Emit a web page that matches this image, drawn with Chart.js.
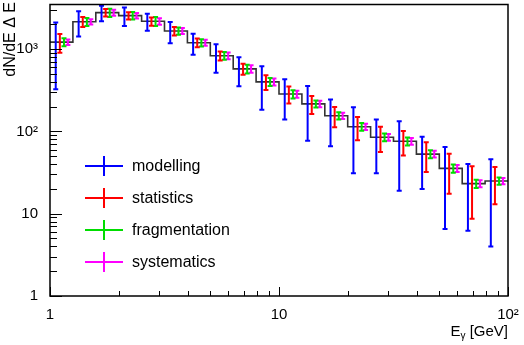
<!DOCTYPE html>
<html><head><meta charset="utf-8">
<script src="https://cdn.jsdelivr.net/npm/chart.js@4/dist/chart.umd.min.js"></script>
<style>html,body{margin:0;padding:0;background:#fff;}#wrap{width:524px;height:345px;position:relative;}</style>
</head><body><div id="wrap"><canvas id="c" width="524" height="345"></canvas></div>
<script>
// ---- data ----
const binEdges = [1, 1.259, 1.585, 1.995, 2.512, 3.162, 3.981, 5.012, 6.310, 7.943, 10,
                  12.59, 15.85, 19.95, 25.12, 31.62, 39.81, 50.12, 63.10, 79.43, 100];
const binContents = [1215, 2150, 2770, 2550, 2175, 1660, 1195, 830, 575, 400,
                     284, 216, 155, 114, 85, 76, 53, 35.5, 23.2, 25];
const errModelling = [890, 730, 590, 640, 505, 480, 340, 315, 222, 217,
                      145, 139, 89, 83, 54, 57, 33, 29, 17, 21];
const errStatistics = [313, 300, 290, 255, 250, 195, 146, 105, 88, 82,
                       66, 53, 43, 36, 29, 25, 21, 18, 14.5, 12];
const errFragmentation = [135, 237, 320, 270, 270, 170, 123, 90, 70, 45,
                          33, 21, 16, 12, 9, 8.5, 6, 4, 2.7, 2.6];
const errSystematics = [95, 156, 230, 195, 200, 140, 100, 76, 60, 38,
                        28, 19, 14, 10, 8, 7, 5, 3.5, 2.3, 2.2];
const seriesNames = ['modelling', 'statistics', 'fragmentation', 'systematics'];
const xTickLabels = {1: '1', 10: '10', 100: '10\u00b2'};
const yTickLabels = {1: '1', 10: '10', 100: '10\u00b2', 1000: '10\u00b3'};
const yMax = 3480;

// ---- styling / layout ----
const seriesErrors = [errModelling, errStatistics, errFragmentation, errSystematics];
const seriesColors = ['#0000ff', '#ff0000', '#00dd00', '#ff00ff'];
const OFFSETS = [0.25, 0.43, 0.61, 0.78];
const FONT = '"Liberation Sans", Arial, Helvetica, sans-serif';

function barX(k, s) {
  const lo = Math.log10(binEdges[k]), hi = Math.log10(binEdges[k + 1]);
  return Math.pow(10, lo + (hi - lo) * OFFSETS[s]);
}

const histData = binEdges.map((e, k) => ({x: e, y: binContents[Math.min(k, binContents.length - 1)]}));

const errDatasets = seriesErrors.map((errs, s) => {
  const pts = [];
  errs.forEach((e, k) => {
    const bx = barX(k, s);
    pts.push({x: bx, y: binContents[k] - e});
    pts.push({x: bx, y: binContents[k] + e});
    pts.push({x: bx, y: null});
  });
  return {
    label: seriesNames[s], data: pts, borderColor: seriesColors[s], backgroundColor: seriesColors[s],
    borderWidth: 2, pointStyle: 'line', pointRadius: 2.5, pointBorderWidth: 2,
    pointBorderColor: seriesColors[s], pointHoverRadius: 2.5, spanGaps: false, showLine: true,
    order: 1
  };
});

const framePlugin = {
  id: 'frame',
  afterDraw(chart) {
    const ctx = chart.ctx, a = chart.chartArea;
    const xs = chart.scales.x, ys = chart.scales.y;
    ctx.save();
    ctx.strokeStyle = '#000';
    ctx.lineWidth = 1;
    for (let d = 1; d <= 1000; d *= 10) {
      for (let m = 1; m <= 9; m++) {
        const v = d * m; if (v > yMax) continue;
        const py = Math.round(ys.getPixelForValue(v)) + 0.5;
        const len = m === 1 ? 12 : 7;
        ctx.beginPath(); ctx.moveTo(a.left, py); ctx.lineTo(a.left + len, py); ctx.stroke();
      }
    }
    for (let d = 1; d <= 100; d *= 10) {
      for (let m = 1; m <= 9; m++) {
        const v = d * m; if (v > 100) continue;
        const px = Math.round(xs.getPixelForValue(v)) + 0.5;
        const len = m === 1 ? 9 : 5;
        ctx.beginPath(); ctx.moveTo(px, a.bottom); ctx.lineTo(px, a.bottom - len); ctx.stroke();
      }
    }
    ctx.lineWidth = 1.5;
    ctx.strokeRect(a.left, a.top, a.right - a.left, a.bottom - a.top);
    seriesNames.forEach((n, i) => {
      const y = 166 + 32 * i;
      ctx.strokeStyle = seriesColors[i]; ctx.lineWidth = 2;
      ctx.beginPath(); ctx.moveTo(85, y); ctx.lineTo(123, y); ctx.moveTo(104, y - 10); ctx.lineTo(104, y + 10); ctx.stroke();
      ctx.fillStyle = '#000'; ctx.font = '16px ' + FONT; ctx.textBaseline = 'middle'; ctx.textAlign = 'left';
      ctx.fillText(n, 132, y + 1);
    });
    ctx.save();
    ctx.translate(14.5, 2); ctx.rotate(-Math.PI / 2);
    ctx.font = '16px ' + FONT; ctx.textAlign = 'right'; ctx.textBaseline = 'alphabetic'; ctx.fillStyle = '#000';
    ctx.fillText('dN/dE \u0394 E', 0, 0);
    ctx.restore();
    ctx.fillStyle = '#000'; ctx.textBaseline = 'alphabetic'; ctx.textAlign = 'left';
    ctx.font = '15px ' + FONT; const w1 = ctx.measureText(' [GeV]').width; const wE = ctx.measureText('E').width;
    ctx.font = '10px ' + FONT; const wg = ctx.measureText('\u03b3').width;
    const x0 = a.right - w1 - wg - wE;
    ctx.font = '15px ' + FONT; ctx.fillText('E', x0, 336);
    ctx.font = '10px ' + FONT; ctx.fillText('\u03b3', x0 + wE, 339);
    ctx.font = '15px ' + FONT; ctx.fillText(' [GeV]', x0 + wE + wg, 336);
    ctx.restore();
  }
};

function noPad(s) { s.paddingTop = 0; s.paddingBottom = 0; s.paddingLeft = 0; s.paddingRight = 0; }

new Chart(document.getElementById('c'), {
  type: 'line',
  data: {
    datasets: [
      {label: 'hist', data: histData, stepped: true, borderColor: '#333', borderWidth: 1.6,
       pointRadius: 0, fill: false, order: 2},
      ...errDatasets
    ]
  },
  options: {
    responsive: false, animation: false, devicePixelRatio: 1,
    layout: {padding: {left: 0, right: 16, top: 2, bottom: 0}},
    plugins: {legend: {display: false}, tooltip: {enabled: false}},
    scales: {
      x: {
        type: 'logarithmic', min: 1, max: 100, position: 'bottom',
        grid: {display: false}, border: {display: false},
        ticks: {autoSkip: false, maxRotation: 0, padding: 2, color: '#000',
                font: {size: 15, family: FONT},
                callback: (v) => xTickLabels[v] !== undefined ? xTickLabels[v] : ''},
        afterFit: (s) => { s.height = 49; noPad(s); }
      },
      y: {
        type: 'logarithmic', min: 1, max: yMax,
        grid: {display: false}, border: {display: false},
        ticks: {autoSkip: false, padding: 4, color: '#000',
                font: {size: 15, family: FONT},
                callback: (v) => yTickLabels[v] !== undefined ? yTickLabels[v] : ''},
        afterFit: (s) => { s.width = 50; noPad(s); }
      }
    }
  },
  plugins: [framePlugin]
});
</script></body></html>
